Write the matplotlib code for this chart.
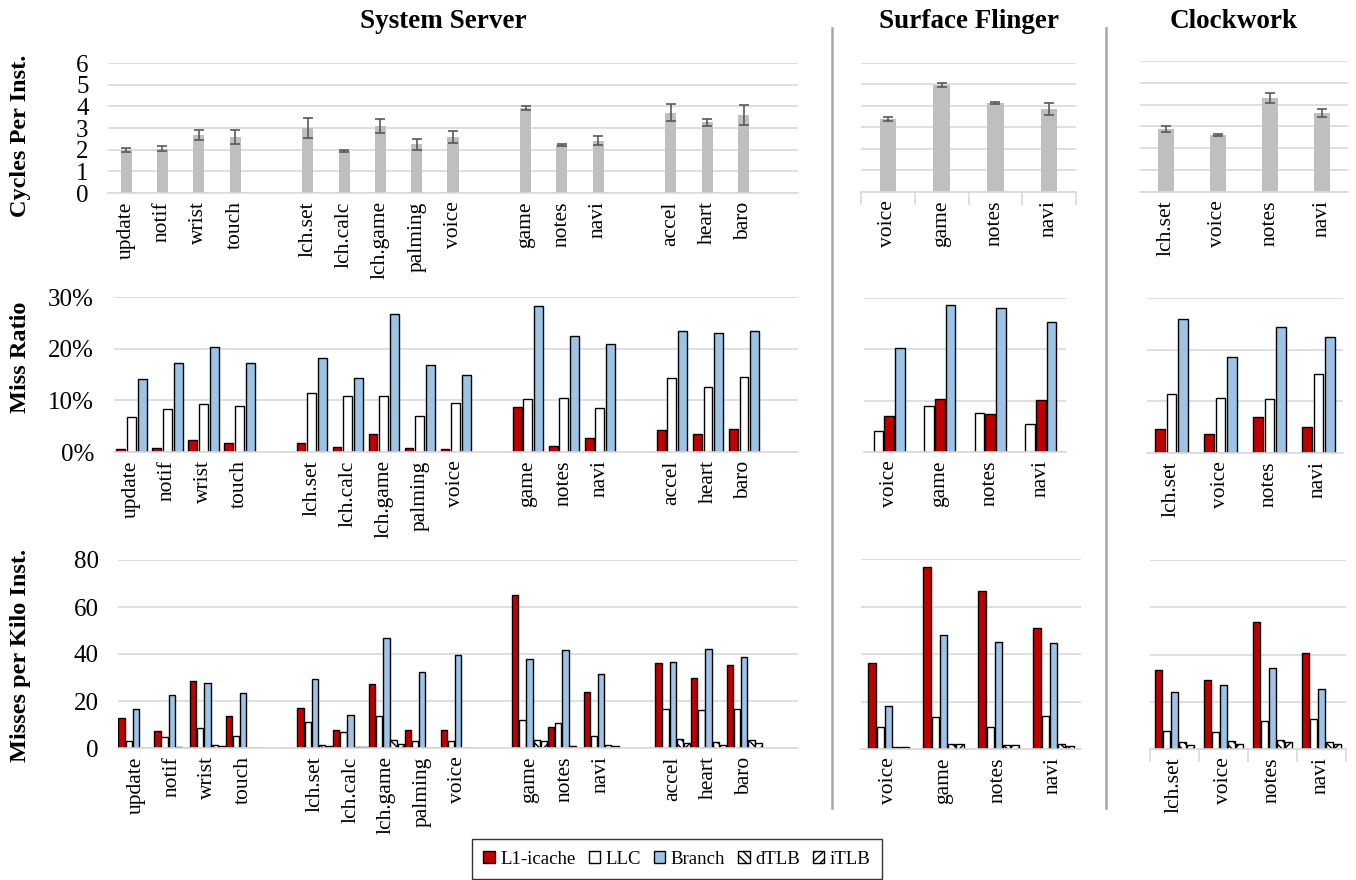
import numpy as np
import matplotlib
matplotlib.use('Agg')
import matplotlib.pyplot as plt
from matplotlib.patches import Patch
from matplotlib.lines import Line2D
from matplotlib.ticker import FuncFormatter

plt.rcParams['font.family'] = ['Liberation Serif', 'DejaVu Serif']
plt.rcParams['hatch.linewidth'] = 1.0

# ---- data ----------------------------------------------------------------
SS_APPS = ['update', 'notif', 'wrist', 'touch',
           'lch.set', 'lch.calc', 'lch.game', 'palming', 'voice',
           'game', 'notes', 'navi',
           'accel', 'heart', 'baro']
SS_GROUPS = [4, 5, 3, 3]
SF_APPS = ['voice', 'game', 'notes', 'navi']
CW_APPS = ['lch.set', 'voice', 'notes', 'navi']

# cycles per instruction (mean, error)
SS_CPI = [2.0, 2.05, 2.69, 2.59, 3.0, 1.93, 3.1, 2.24, 2.59, 3.91, 2.21, 2.42, 3.7, 3.27, 3.61]
SS_CPI_ERR = [0.1, 0.11, 0.23, 0.32, 0.45, 0.05, 0.33, 0.24, 0.29, 0.1, 0.03, 0.2, 0.39, 0.16, 0.46]
SF_CPI = [3.41, 4.97, 4.13, 3.86]
SF_CPI_ERR = [0.1, 0.08, 0.06, 0.26]
CW_CPI = [2.88, 2.62, 4.3, 3.61]
CW_CPI_ERR = [0.15, 0.05, 0.23, 0.19]

# miss ratio (%)
SS_MR_L1 = [0.65, 0.8, 2.4, 1.8, 1.7, 1.0, 3.5, 0.8, 0.6, 8.8, 1.1, 2.8, 4.2, 3.4, 4.4]
SS_MR_LLC = [6.8, 8.3, 9.3, 9.0, 11.4, 10.8, 10.8, 7.0, 9.5, 10.2, 10.5, 8.5, 14.3, 12.5, 14.6]
SS_MR_BR = [14.1, 17.3, 20.3, 17.2, 18.2, 14.3, 26.8, 16.8, 15.0, 28.3, 22.5, 20.9, 23.5, 23.0, 23.5]
SF_MR_L1 = [7.0, 10.4, 7.4, 10.1]
SF_MR_LLC = [4.1, 9.0, 7.6, 5.5]
SF_MR_BR = [20.2, 28.6, 28.0, 25.4]
CW_MR_L1 = [4.7, 3.6, 7.0, 5.0]
CW_MR_LLC = [11.4, 10.7, 10.5, 15.2]
CW_MR_BR = [25.9, 18.5, 24.3, 22.5]

# misses per kilo instructions
SS_MPKI_L1 = [12.7, 7.4, 28.6, 13.7, 17.1, 7.5, 27.2, 7.8, 7.8, 65.2, 8.8, 23.7, 36.3, 29.9, 35.3]
SS_MPKI_LLC = [3.1, 4.8, 8.5, 5.0, 11.0, 6.8, 13.5, 3.0, 3.0, 11.9, 10.8, 5.2, 16.7, 16.3, 16.7]
SS_MPKI_BR = [16.7, 22.5, 27.6, 23.5, 29.5, 14.0, 47.0, 32.2, 39.5, 37.8, 41.8, 31.3, 36.8, 42.2, 38.7]
SS_MPKI_DTLB = [0.1, 0.3, 1.4, 0.2, 1.3, 0.5, 3.4, 0.1, 0.1, 3.4, 0.7, 1.1, 3.8, 2.5, 3.4]
SS_MPKI_ITLB = [0.1, 0.1, 0.8, 0.1, 0.8, 0.3, 1.7, 0.1, 0.1, 2.8, 0.1, 0.7, 2.3, 1.4, 2.3]
SF_MPKI_L1 = [36.1, 76.8, 66.5, 50.8]
SF_MPKI_LLC = [9.1, 13.3, 9.1, 14.0]
SF_MPKI_BR = [18.1, 48.2, 45.2, 44.8]
SF_MPKI_DTLB = [0.8, 2.2, 1.8, 2.2]
SF_MPKI_ITLB = [0.8, 2.0, 1.7, 1.4]
CW_MPKI_L1 = [33.6, 29.0, 53.6, 40.8]
CW_MPKI_LLC = [7.8, 7.1, 11.7, 12.7]
CW_MPKI_BR = [24.2, 26.9, 34.2, 25.4]
CW_MPKI_DTLB = [2.8, 3.3, 3.8, 2.8]
CW_MPKI_ITLB = [1.8, 2.3, 2.8, 2.1]

# ---- styles --------------------------------------------------------------
RED = '#C00000'
BLUE = '#9DC3E6'
GRID = '#D9D9D9'
SERIES = {
    'L1-icache': dict(facecolor=RED, hatch=None),
    'LLC':       dict(facecolor='white', hatch=None),
    'Branch':    dict(facecolor=BLUE, hatch=None),
    'dTLB':      dict(facecolor='white', hatch='\\\\\\\\'),
    'iTLB':      dict(facecolor='white', hatch='////'),
}

W, H = 1356, 880
fig = plt.figure(figsize=(W / 100, H / 100), dpi=100)


def px_axes(box):
    x0, x1, y_top, y_bot = box
    return fig.add_axes([x0 / W, 1 - y_bot / H, (x1 - x0) / W, (y_bot - y_top) / H])


def ss_positions():
    pos, start = [], 0
    for n in SS_GROUPS:
        pos.extend(range(start, start + n))
        start += n + 1
    return np.array(pos, dtype=float), start - 1


def style_axes(ax, ymax, step, ticks_on, minor_ticks=False):
    ax.set_ylim(0, ymax)
    ax.set_yticks(np.arange(0, ymax + 0.01, step))
    ax.grid(axis='y', color=GRID, linewidth=1.2)
    ax.set_axisbelow(True)
    for s in ('top', 'right', 'left'):
        ax.spines[s].set_visible(False)
    ax.spines['bottom'].set_color(GRID)
    ax.spines['bottom'].set_linewidth(1.2)
    ax.tick_params(axis='y', length=0, labelsize=18, pad=14,
                   labelleft=ticks_on)
    ax.tick_params(axis='x', length=0, labelsize=15.5, labelrotation=90, pad=6)
    if minor_ticks:
        n = len(ax.get_xticks())
        ax.set_xticks(np.arange(-0.5, n, 1.0), minor=True)
        ax.tick_params(axis='x', which='minor', length=9, color=GRID, width=1.2)


# panel boxes in pixels: (left, right, top, bottom)
BOXES = {
    ('SS', 'cpi'): (108, 798, 63, 193),
    ('SS', 'mr'): (113.5, 798, 297, 452),
    ('SS', 'mpki'): (118, 798, 560, 748),
    ('SF', 'cpi'): (861, 1076, 63, 192),
    ('SF', 'mr'): (864, 1066, 298, 452),
    ('SF', 'mpki'): (861, 1081, 559, 749),
    ('CW', 'cpi'): (1140, 1348, 61, 192),
    ('CW', 'mr'): (1147, 1343, 298, 453),
    ('CW', 'mpki'): (1150, 1346, 560, 749),
}

ss_x, ss_last = ss_positions()
panels = {
    'SS': dict(x=ss_x, xlim=(-0.5, ss_last + 0.5), apps=SS_APPS,
               cpi=(SS_CPI, SS_CPI_ERR),
               mr=[('L1-icache', SS_MR_L1), ('LLC', SS_MR_LLC), ('Branch', SS_MR_BR)],
               mpki=[SS_MPKI_L1, SS_MPKI_LLC, SS_MPKI_BR, SS_MPKI_DTLB, SS_MPKI_ITLB],
               cpi_w=0.305, mr_pitch=0.297, mr_w=0.245, mp_pitch=0.2, mp_w=0.177),
    'SF': dict(x=np.arange(4, dtype=float), xlim=(-0.5, 3.5), apps=SF_APPS,
               cpi=(SF_CPI, SF_CPI_ERR),
               mr=[('LLC', SF_MR_LLC), ('L1-icache', SF_MR_L1), ('Branch', SF_MR_BR)],
               mpki=[SF_MPKI_L1, SF_MPKI_LLC, SF_MPKI_BR, SF_MPKI_DTLB, SF_MPKI_ITLB],
               cpi_w=0.31, mr_pitch=0.215, mr_w=0.19, mp_pitch=0.151, mp_w=0.133),
    'CW': dict(x=np.arange(4, dtype=float), xlim=(-0.5, 3.5), apps=CW_APPS,
               cpi=(CW_CPI, CW_CPI_ERR),
               mr=[('L1-icache', CW_MR_L1), ('LLC', CW_MR_LLC), ('Branch', CW_MR_BR)],
               mpki=[CW_MPKI_L1, CW_MPKI_LLC, CW_MPKI_BR, CW_MPKI_DTLB, CW_MPKI_ITLB],
               cpi_w=0.31, mr_pitch=0.23, mr_w=0.198, mp_pitch=0.16, mp_w=0.148),
}
MPKI_NAMES = ['L1-icache', 'LLC', 'Branch', 'dTLB', 'iTLB']

for key, p in panels.items():
    first = key == 'SS'

    # cycles per instruction
    ax = px_axes(BOXES[(key, 'cpi')])
    vals, errs = p['cpi']
    ax.bar(p['x'], vals, width=p['cpi_w'], color='#BFBFBF', zorder=2)
    ax.errorbar(p['x'], vals, yerr=errs, fmt='none', ecolor='#595959',
                elinewidth=1.2, capsize=3.5, capthick=1.2, zorder=3)
    ax.set_xticks(p['x'])
    ax.set_xticklabels(p['apps'])
    ax.set_xlim(*p['xlim'])
    style_axes(ax, 6, 1, first, minor_ticks=(key == 'SF'))

    # miss ratio
    ax = px_axes(BOXES[(key, 'mr')])
    for i, (name, v) in enumerate(p['mr']):
        off = (i - 1) * p['mr_pitch']
        ax.bar(p['x'] + off, v, width=p['mr_w'], edgecolor='black',
               linewidth=1.0, zorder=2, **SERIES[name])
    ax.set_xticks(p['x'])
    ax.set_xticklabels(p['apps'])
    ax.set_xlim(*p['xlim'])
    ax.yaxis.set_major_formatter(FuncFormatter(lambda v, _: f'{v:.0f}%'))
    style_axes(ax, 30, 10, first)

    # misses per kilo instructions
    ax = px_axes(BOXES[(key, 'mpki')])
    for i, (name, v) in enumerate(zip(MPKI_NAMES, p['mpki'])):
        off = (i - 2) * p['mp_pitch']
        ax.bar(p['x'] + off, v, width=p['mp_w'], edgecolor='black',
               linewidth=1.0, zorder=2, **SERIES[name])
    ax.set_xticks(p['x'])
    ax.set_xticklabels(p['apps'])
    ax.set_xlim(*p['xlim'])
    style_axes(ax, 80, 20, first, minor_ticks=(key == 'CW'))

# column titles
for txt, xc in [('System Server', 443), ('Surface Flinger', 969), ('Clockwork', 1234)]:
    fig.text(xc / W, 1 - 22 / H, txt, ha='center', va='center',
             fontsize=19.5, fontweight='bold')

# row labels
for txt, yc in [('Cycles Per Inst.', 136), ('Miss Ratio', 357), ('Misses per Kilo Inst.', 655)]:
    fig.text(21 / W, 1 - yc / H, txt, ha='center', va='center', rotation=90,
             fontsize=17.5, fontweight='bold')

# separators between processes
for xs in (832, 1106):
    fig.add_artist(Line2D([xs / W, xs / W], [1 - 28 / H, 1 - 808 / H],
                          color='#A6A6A6', linewidth=1.8))

handles = [Patch(edgecolor='black', linewidth=1.0, label=n, **SERIES[n]) for n in MPKI_NAMES]
leg = fig.legend(handles=handles, loc='center', bbox_to_anchor=(677 / W, 1 - 859 / H),
                 ncol=5, fontsize=13.5, frameon=True, fancybox=False,
                 handlelength=0.6, handleheight=0.6, handletextpad=0.3,
                 columnspacing=0.7, borderpad=0.6)
leg.get_frame().set_edgecolor('black')
leg.get_frame().set_linewidth(1.0)

fig.savefig('out.png', dpi=100)
